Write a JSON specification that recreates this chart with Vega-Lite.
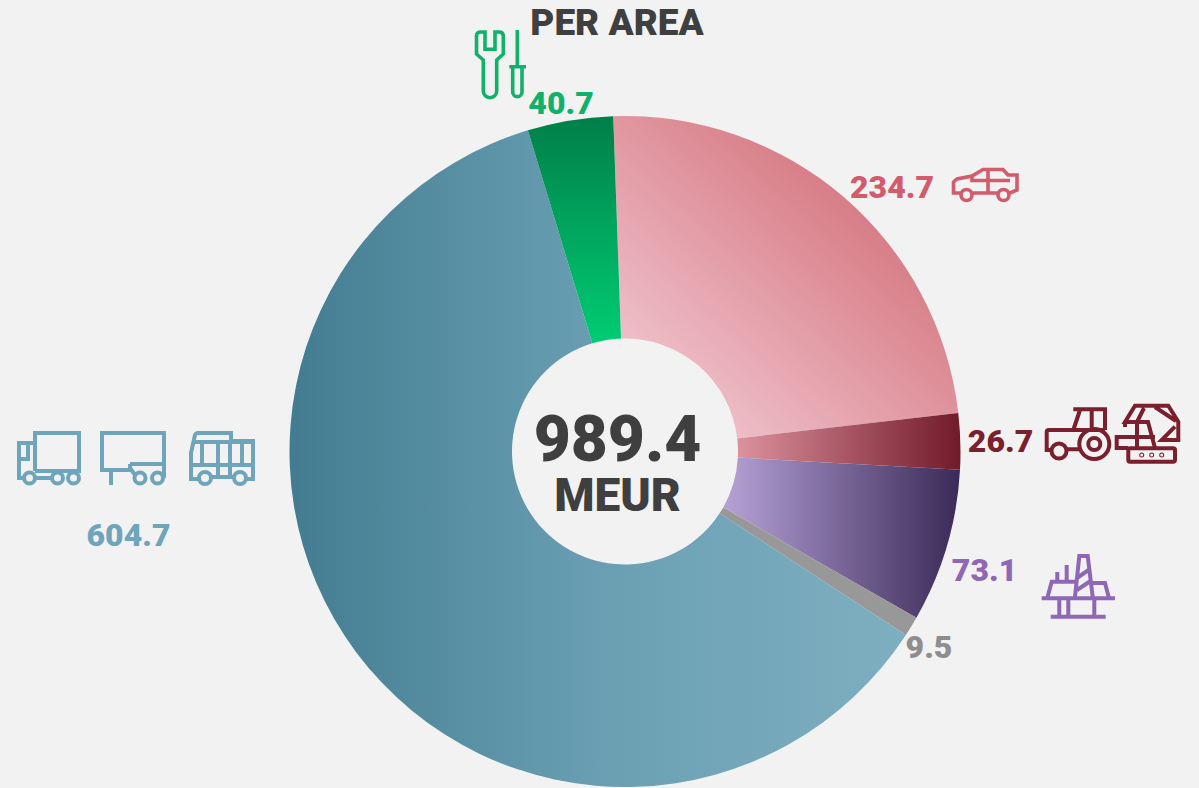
{
"$schema":"https://vega.github.io/schema/vega-lite/v6.json",
"width":1199,"height":788,"autosize":"none","padding":0,"background":"#f2f2f2",
"view":{"stroke":null},
"config":{"text":{"font":"Roboto","fontWeight":900}},
"data":{"values":[
{"order":1,"area":"Cars","value":234.7},
{"order":2,"area":"Off-road","value":26.7},
{"order":3,"area":"Marine","value":73.1},
{"order":4,"area":"Other","value":9.5},
{"order":5,"area":"Trucks","value":604.7},
{"order":6,"area":"Service","value":40.7}]},
"transform":[{"stack":"value","groupby":[],"sort":[{"field":"order"}],"as":["start","end"]}],
"encoding":{
"x":{"datum":625,"type":"quantitative","scale":{"domain":[0,1199],"range":[0,1199]},"axis":null},
"y":{"datum":451.5,"type":"quantitative","scale":{"domain":[0,788],"range":[0,788]},"axis":null}},
"layer":[
{"transform":[{"filter":"datum.area==='Cars'"}],"mark":{"type":"arc","radius":335.5,"radius2":113,"fill":{"gradient":"linear","x1":0,"y1":1,"x2":1,"y2":0,"stops":[{"offset":0,"color":"#f5d3dc"},{"offset":0.78,"color":"#d5757f"},{"offset":1,"color":"#d5757f"}]}},
"encoding":{"theta":{"field":"start","type":"quantitative","stack":null,"scale":{"domain":[0,989.4],"range":[-0.035,6.248]}},"theta2":{"field":"end"}}},
{"transform":[{"filter":"datum.area==='Off-road'"}],"mark":{"type":"arc","radius":335.5,"radius2":113,"fill":{"gradient":"linear","x1":0,"y1":0,"x2":1,"y2":0,"stops":[{"offset":0,"color":"#dd919d"},{"offset":1,"color":"#711a2a"}]}},
"encoding":{"theta":{"field":"start","type":"quantitative","stack":null},"theta2":{"field":"end"}}},
{"transform":[{"filter":"datum.area==='Marine'"}],"mark":{"type":"arc","radius":335.5,"radius2":113,"fill":{"gradient":"linear","x1":0,"y1":0,"x2":1,"y2":0,"stops":[{"offset":0,"color":"#b7a2d6"},{"offset":1,"color":"#3a2a58"}]}},
"encoding":{"theta":{"field":"start","type":"quantitative","stack":null},"theta2":{"field":"end"}}},
{"transform":[{"filter":"datum.area==='Other'"}],"mark":{"type":"arc","radius":335.5,"radius2":113,"fill":"#989898"},
"encoding":{"theta":{"field":"start","type":"quantitative","stack":null},"theta2":{"field":"end"}}},
{"transform":[{"filter":"datum.area==='Trucks'"}],"mark":{"type":"arc","radius":335.5,"radius2":113,"fill":{"gradient":"linear","x1":0,"y1":0,"x2":1,"y2":0,"stops":[{"offset":0,"color":"#437c91"},{"offset":0.5,"color":"#6a9fb3"},{"offset":1,"color":"#7eafc0"}]}},
"encoding":{"theta":{"field":"start","type":"quantitative","stack":null},"theta2":{"field":"end"}}},
{"transform":[{"filter":"datum.area==='Service'"}],"mark":{"type":"arc","radius":335.5,"radius2":113,"fill":{"gradient":"linear","x1":0,"y1":1,"x2":0,"y2":0,"stops":[{"offset":0,"color":"#00cc73"},{"offset":1,"color":"#007f49"}]}},
"encoding":{"theta":{"field":"start","type":"quantitative","stack":null},"theta2":{"field":"end"}}},

{"transform":[{"aggregate":[{"op":"sum","field":"value","as":"total"}]}],"mark":{"type":"text","fontSize":64,"fill":"#3f3f3f","align":"center","baseline":"alphabetic"},
"encoding":{"text":{"field":"total","type":"quantitative","format":".1f"},"x":{"datum":617.5},"y":{"datum":461}}},
{"transform":[{"filter":"datum.order===1"}],"mark":{"type":"text","fontSize":46,"fill":"#3f3f3f","align":"center","baseline":"alphabetic"},
"encoding":{"text":{"datum":"MEUR"},"x":{"datum":617.5},"y":{"datum":511}}},
{"transform":[{"filter":"datum.order===1"}],"mark":{"type":"text","fontSize":37,"fill":"#3f3f3f","align":"center","baseline":"alphabetic"},
"encoding":{"text":{"datum":"PER AREA"},"x":{"datum":617},"y":{"datum":35}}},

{"transform":[{"filter":"datum.area==='Cars'"}],"mark":{"type":"text","fontSize":32,"fill":"#d25b6c","align":"center","baseline":"alphabetic"},
"encoding":{"text":{"field":"value","type":"quantitative","format":".1f"},"x":{"datum":892},"y":{"datum":198}}},
{"transform":[{"filter":"datum.area==='Off-road'"}],"mark":{"type":"text","fontSize":32,"fill":"#7a1f2e","align":"center","baseline":"alphabetic"},
"encoding":{"text":{"field":"value","type":"quantitative","format":".1f"},"x":{"datum":1000.5},"y":{"datum":452}}},
{"transform":[{"filter":"datum.area==='Marine'"}],"mark":{"type":"text","fontSize":32,"fill":"#8e67b5","align":"center","baseline":"alphabetic"},
"encoding":{"text":{"field":"value","type":"quantitative","format":".1f"},"x":{"datum":984.5},"y":{"datum":581}}},
{"transform":[{"filter":"datum.area==='Other'"}],"mark":{"type":"text","fontSize":32,"fill":"#8e8e8e","align":"center","baseline":"alphabetic"},
"encoding":{"text":{"field":"value","type":"quantitative","format":".1f"},"x":{"datum":929},"y":{"datum":658}}},
{"transform":[{"filter":"datum.area==='Trucks'"}],"mark":{"type":"text","fontSize":32,"fill":"#6fa5bb","align":"center","baseline":"alphabetic"},
"encoding":{"text":{"field":"value","type":"quantitative","format":".1f"},"x":{"datum":128.5},"y":{"datum":546}}},
{"transform":[{"filter":"datum.area==='Service'"}],"mark":{"type":"text","fontSize":32,"fill":"#10b16a","align":"center","baseline":"alphabetic"},
"encoding":{"text":{"field":"value","type":"quantitative","format":".1f"},"x":{"datum":561},"y":{"datum":114}}},

{"transform":[{"filter":"datum.area==='Trucks'"}],"mark":{"type":"point","opacity":1,"size":4,"filled":false,"stroke":"#6fa5bb","strokeWidth":4,"shape":"M-15,11V-27H29V11H-15M-15,-17H-31V18H-26M-31,-1H-22V-17M-15,18H2M-26,18a5.5,5.5 0 1 0 11,0a5.5,5.5 0 1 0 -11,0M2,18a5.5,5.5 0 1 0 11,0a5.5,5.5 0 1 0 -11,0M18,18a5.5,5.5 0 1 0 11,0a5.5,5.5 0 1 0 -11,0"},
"encoding":{"x":{"datum":50},"y":{"datum":460}}},
{"transform":[{"filter":"datum.area==='Trucks'"}],"mark":{"type":"point","opacity":1,"size":4,"filled":false,"stroke":"#6fa5bb","strokeWidth":4,"shape":"M-3,10H-31V-27H31V18M-22,10V25M-3,4H31M-3,4V8L2,15M1.5,18a5.5,5.5 0 1 0 11,0a5.5,5.5 0 1 0 -11,0M19,18a5.5,5.5 0 1 0 11,0a5.5,5.5 0 1 0 -11,0"},
"encoding":{"x":{"datum":133},"y":{"datum":460}}},
{"transform":[{"filter":"datum.area==='Trucks'"}],"mark":{"type":"point","opacity":1,"size":4,"filled":false,"stroke":"#6fa5bb","strokeWidth":4,"shape":"M-23,19H-31V-7L-27,-25Q-26,-27 -24,-27H9V-19H31V19H24M-11,17H12M-29,-18H31M-31,5H31M-20,-18V5M-4,-18V17M8,-18V17M20,-18V5M-23,18a6,6 0 1 0 12,0a6,6 0 1 0 -12,0M12,18a6,6 0 1 0 12,0a6,6 0 1 0 -12,0"},
"encoding":{"x":{"datum":222},"y":{"datum":460}}},
{"transform":[{"filter":"datum.area==='Cars'"}],"mark":{"type":"point","opacity":1,"size":4,"filled":false,"stroke":"#d25b6c","strokeWidth":3.6,"shape":"M-24,8H-31.5V-3L-28,-6L-13,-9L-2,-15.5H18L23,-10H32V5L25,8H24M-13,8H13M-13,-9V-4.5H25M3,-15.5V7M-24,10a5.5,5.5 0 1 0 11,0a5.5,5.5 0 1 0 -11,0M13,10a5.5,5.5 0 1 0 11,0a5.5,5.5 0 1 0 -11,0"},
"encoding":{"x":{"datum":985},"y":{"datum":185}}},
{"transform":[{"filter":"datum.area==='Off-road'"}],"mark":{"type":"point","opacity":1,"size":4,"filled":false,"stroke":"#7a1f2e","strokeWidth":4,"shape":"M-4.7,-25.7H27V-5M2,-25L-4.7,-5M13.7,-25V-5M-27,15H-31.3V-3Q-31.3,-5 -29,-5H27M-11.5,14.3H1.3M-26.5,16a7.5,7.5 0 1 0 15,0a7.5,7.5 0 1 0 -15,0M1.3,9a15,15 0 1 0 30,0a15,15 0 1 0 -30,0M10.3,9a6,6 0 1 0 12,0a6,6 0 1 0 -12,0"},
"encoding":{"x":{"datum":1078},"y":{"datum":435}}},
{"transform":[{"filter":"datum.area==='Off-road'"}],"mark":{"type":"point","opacity":1,"size":4,"filled":false,"stroke":"#7a1f2e","strokeWidth":4,"shape":"M-20,13H-31.3V2H7M7,13L0,-13H-23L-13,-29.3H20.3L30.3,-13.3V5H13.7L27,-8.3M-11,-13L-4,-27M7,-28L28,-14M-11,-13V13M-23,-13V-8M-18,13.3H25Q27,13.3 27,15V25Q27,26.7 25,26.7H-18Q-19.7,26.7 -19.7,25V15Q-19.7,13.3 -18,13.3ZM-6.8,20a0.5,0.5 0 1 0 1,0a0.5,0.5 0 1 0 -1,0M3.2,20a0.5,0.5 0 1 0 1,0a0.5,0.5 0 1 0 -1,0M13.2,20a0.5,0.5 0 1 0 1,0a0.5,0.5 0 1 0 -1,0"},
"encoding":{"x":{"datum":1148},"y":{"datum":435}}},
{"transform":[{"filter":"datum.area==='Marine'"}],"mark":{"type":"point","opacity":1,"size":4,"filled":false,"stroke":"#8e67b5","strokeWidth":4,"shape":"M-36.3,8.3H37M-27.3,26.7H27.7M-18.7,8V26M-9.7,8V26M16.3,8V26M-30.7,8L-26.3,-8.3H-3M-20.7,-8V-18M-11.3,-8V-25M-3,6.7L1.3,-34H9.7L14.7,6.7M-1,-12L12,-21M-1,0L14,-10M15,-7H27L31,8"},
"encoding":{"x":{"datum":1078},"y":{"datum":590}}},
{"transform":[{"filter":"datum.area==='Service'"}],"mark":{"type":"point","opacity":1,"size":4,"filled":false,"stroke":"#10b16a","strokeWidth":3.6,"shape":"M-6.7,-5L-13.5,-11V-29Q-13.5,-33 -9,-33H-5V-15.7H5V-33H9Q13.3,-33 13.3,-29V-11L6.7,-5V26A6.7,6.7 0 0 1 -6.7,26ZM27.3,-35V1.7M19.3,1.7H36M22.7,2V27A4.6,4.6 0 0 0 32,27V2"},
"encoding":{"x":{"datum":490},"y":{"datum":65}}}
]}
